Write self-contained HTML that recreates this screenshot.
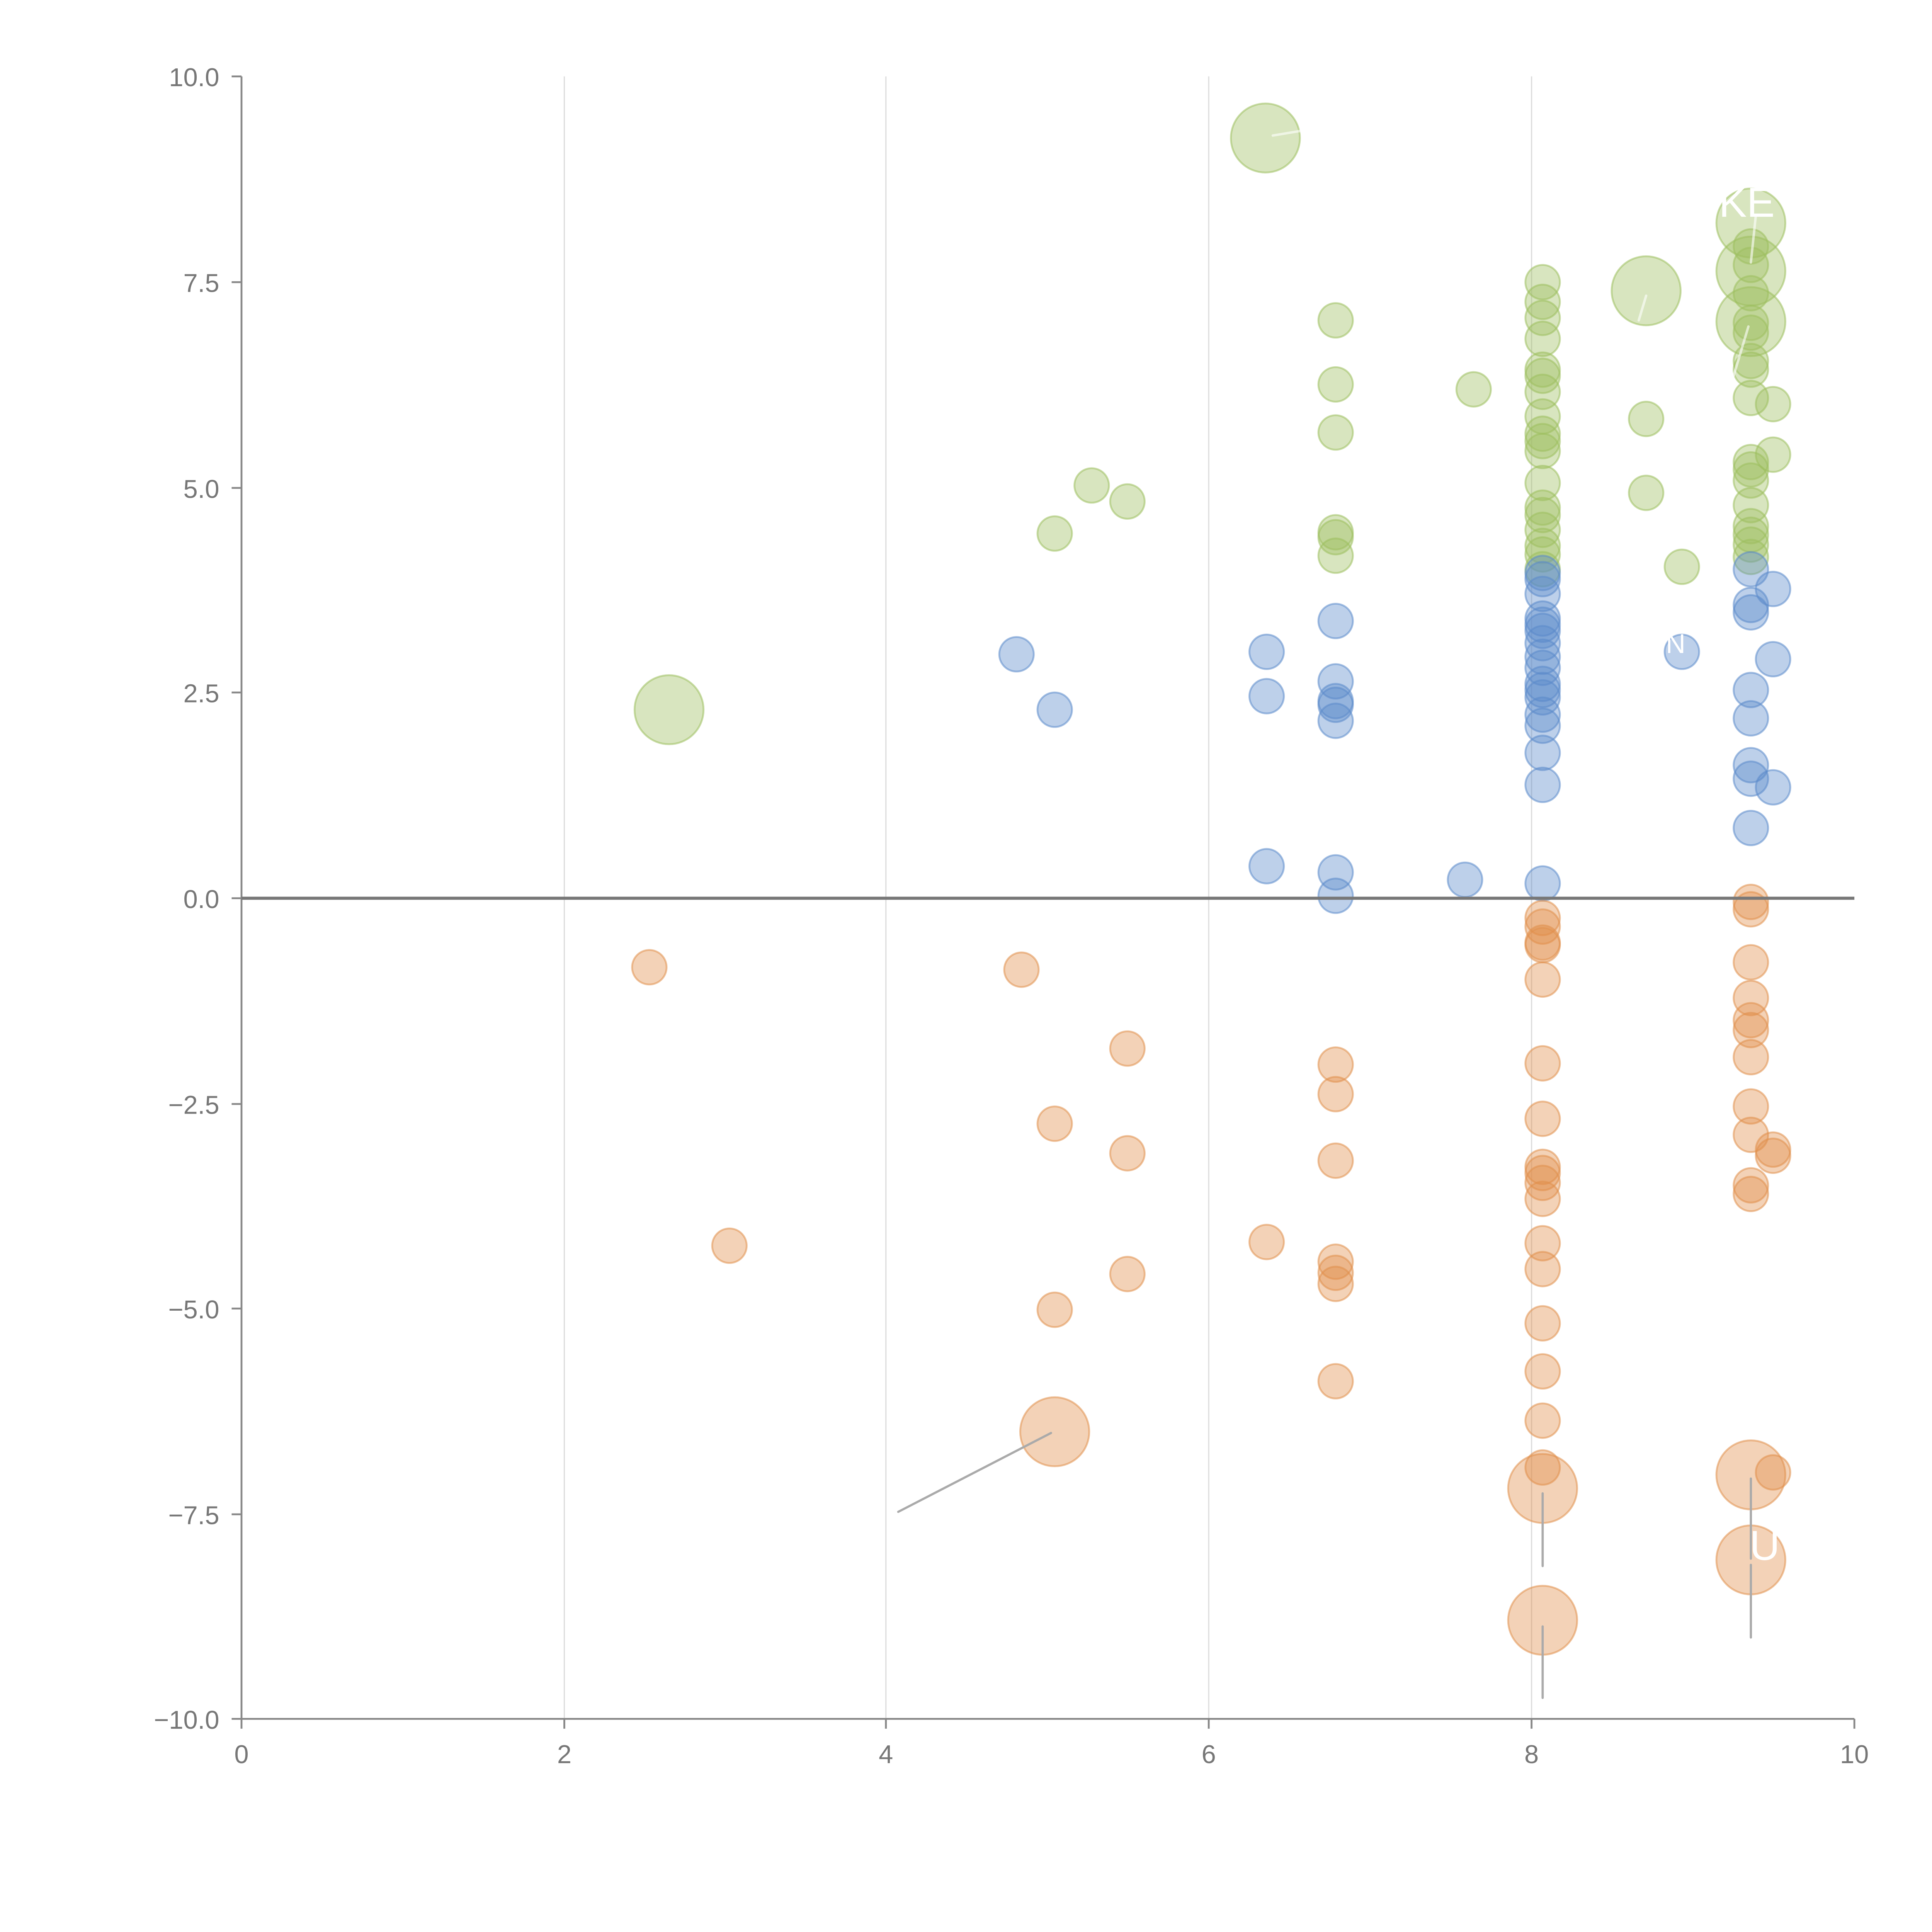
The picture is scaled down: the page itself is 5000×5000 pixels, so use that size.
<!DOCTYPE html>
<html><head><meta charset="utf-8"><style>html,body{margin:0;padding:0;background:#fff}svg{display:block}
.g{fill:#9dbf5e;fill-opacity:.4;stroke:#9dbf5e;stroke-opacity:.55;stroke-width:1.5}
.b{fill:#5b8acb;fill-opacity:.4;stroke:#5b8acb;stroke-opacity:.55;stroke-width:1.5}
.o{fill:#e08f4c;fill-opacity:.4;stroke:#e08f4c;stroke-opacity:.55;stroke-width:1.5}
</style></head>
<body>
<svg width="5000" height="5000" viewBox="0 0 1568 1568" xmlns="http://www.w3.org/2000/svg" font-family="Liberation Sans, Arial, sans-serif">
<g stroke="#dddddd" stroke-width="1">
<line x1="458" y1="62" x2="458" y2="1395"/><line x1="719" y1="62" x2="719" y2="1395"/>
<line x1="981" y1="62" x2="981" y2="1395"/><line x1="1243" y1="62" x2="1243" y2="1395"/>
</g>
<g stroke="#888" stroke-width="1.5">
<line x1="196" y1="62" x2="196" y2="1395"/><line x1="196" y1="1395" x2="1505" y2="1395"/>
<line x1="188" y1="62" x2="196" y2="62"/><line x1="188" y1="229" x2="196" y2="229"/><line x1="188" y1="396" x2="196" y2="396"/><line x1="188" y1="562" x2="196" y2="562"/><line x1="188" y1="729" x2="196" y2="729"/><line x1="188" y1="896" x2="196" y2="896"/><line x1="188" y1="1062" x2="196" y2="1062"/><line x1="188" y1="1229" x2="196" y2="1229"/><line x1="188" y1="1395" x2="196" y2="1395"/>
<line x1="196" y1="1395" x2="196" y2="1403"/><line x1="458" y1="1395" x2="458" y2="1403"/><line x1="719" y1="1395" x2="719" y2="1403"/><line x1="981" y1="1395" x2="981" y2="1403"/><line x1="1243" y1="1395" x2="1243" y2="1403"/><line x1="1505" y1="1395" x2="1505" y2="1403"/>
</g>
<g fill="#777" font-size="21" text-anchor="end">
<text x="178" y="70">10.0</text><text x="178" y="237">7.5</text><text x="178" y="404">5.0</text><text x="178" y="570">2.5</text><text x="178" y="737">0.0</text><text x="178" y="904">−2.5</text><text x="178" y="1070">−5.0</text><text x="178" y="1237">−7.5</text><text x="178" y="1403">−10.0</text>
</g>
<g fill="#777" font-size="21" text-anchor="middle">
<text x="196" y="1431">0</text><text x="458" y="1431">2</text><text x="719" y="1431">4</text><text x="981" y="1431">6</text><text x="1243" y="1431">8</text><text x="1505" y="1431">10</text>
</g>
<g class="g">
<circle cx="1027" cy="112" r="28"/><circle cx="543" cy="576" r="28"/><circle cx="1336" cy="236" r="28"/><circle cx="1421" cy="181" r="28"/><circle cx="1421" cy="220" r="28"/><circle cx="1421" cy="261" r="28"/>
<circle cx="1084" cy="260" r="14"/><circle cx="1084" cy="312" r="14"/><circle cx="1084" cy="351" r="14"/><circle cx="1084" cy="432" r="14"/><circle cx="1084" cy="436" r="14"/><circle cx="1084" cy="451" r="14"/><circle cx="856" cy="433" r="14"/><circle cx="886" cy="394" r="14"/><circle cx="915" cy="407" r="14"/><circle cx="1196" cy="316" r="14"/><circle cx="1336" cy="340" r="14"/><circle cx="1336" cy="400" r="14"/><circle cx="1365" cy="460" r="14"/><circle cx="1439" cy="328" r="14"/><circle cx="1439" cy="369" r="14"/>
<circle cx="1252" cy="229" r="14"/><circle cx="1252" cy="245" r="14"/><circle cx="1252" cy="258" r="14"/><circle cx="1252" cy="275" r="14"/><circle cx="1252" cy="300" r="14"/><circle cx="1252" cy="305" r="14"/><circle cx="1252" cy="318" r="14"/><circle cx="1252" cy="338" r="14"/><circle cx="1252" cy="352" r="14"/><circle cx="1252" cy="358" r="14"/><circle cx="1252" cy="366" r="14"/><circle cx="1252" cy="392" r="14"/><circle cx="1252" cy="412" r="14"/><circle cx="1252" cy="418" r="14"/><circle cx="1252" cy="430" r="14"/><circle cx="1252" cy="443" r="14"/><circle cx="1252" cy="450" r="14"/><circle cx="1252" cy="462" r="14"/>
<circle cx="1421" cy="200" r="14"/><circle cx="1421" cy="215" r="14"/><circle cx="1421" cy="238" r="14"/><circle cx="1421" cy="262" r="14"/><circle cx="1421" cy="270" r="14"/><circle cx="1421" cy="293" r="14"/><circle cx="1421" cy="300" r="14"/><circle cx="1421" cy="323" r="14"/><circle cx="1421" cy="375" r="14"/><circle cx="1421" cy="381" r="14"/><circle cx="1421" cy="390" r="14"/><circle cx="1421" cy="410" r="14"/><circle cx="1421" cy="427" r="14"/><circle cx="1421" cy="434" r="14"/><circle cx="1421" cy="442" r="14"/><circle cx="1421" cy="452" r="14"/>
</g>
<g class="b">
<circle cx="825" cy="531" r="14"/><circle cx="856" cy="576" r="14"/><circle cx="1028" cy="529" r="14"/><circle cx="1028" cy="565" r="14"/><circle cx="1028" cy="703" r="14"/><circle cx="1084" cy="504" r="14"/><circle cx="1084" cy="553" r="14"/><circle cx="1084" cy="569" r="14"/><circle cx="1084" cy="572" r="14"/><circle cx="1084" cy="585" r="14"/><circle cx="1084" cy="708" r="14"/><circle cx="1084" cy="727" r="14"/><circle cx="1189" cy="714" r="14"/><circle cx="1252" cy="717" r="14"/><circle cx="1365" cy="529" r="14"/><circle cx="1439" cy="478" r="14"/><circle cx="1439" cy="535" r="14"/><circle cx="1439" cy="639" r="14"/>
<circle cx="1252" cy="465" r="14"/><circle cx="1252" cy="470" r="14"/><circle cx="1252" cy="482" r="14"/><circle cx="1252" cy="502" r="14"/><circle cx="1252" cy="507" r="14"/><circle cx="1252" cy="512" r="14"/><circle cx="1252" cy="522" r="14"/><circle cx="1252" cy="533" r="14"/><circle cx="1252" cy="542" r="14"/><circle cx="1252" cy="555" r="14"/><circle cx="1252" cy="560" r="14"/><circle cx="1252" cy="566" r="14"/><circle cx="1252" cy="580" r="14"/><circle cx="1252" cy="589" r="14"/><circle cx="1252" cy="611" r="14"/><circle cx="1252" cy="637" r="14"/>
<circle cx="1421" cy="462" r="14"/><circle cx="1421" cy="491" r="14"/><circle cx="1421" cy="497" r="14"/><circle cx="1421" cy="560" r="14"/><circle cx="1421" cy="583" r="14"/><circle cx="1421" cy="621" r="14"/><circle cx="1421" cy="632" r="14"/><circle cx="1421" cy="672" r="14"/>
</g>
<g class="o">
<circle cx="527" cy="785" r="14"/><circle cx="592" cy="1011" r="14"/><circle cx="829" cy="787" r="14"/><circle cx="856" cy="912" r="14"/><circle cx="856" cy="1063" r="14"/><circle cx="915" cy="851" r="14"/><circle cx="915" cy="936" r="14"/><circle cx="915" cy="1034" r="14"/><circle cx="1028" cy="1008" r="14"/><circle cx="1084" cy="864" r="14"/><circle cx="1084" cy="888" r="14"/><circle cx="1084" cy="942" r="14"/><circle cx="1084" cy="1024" r="14"/><circle cx="1084" cy="1033" r="14"/><circle cx="1084" cy="1042" r="14"/><circle cx="1084" cy="1121" r="14"/><circle cx="1439" cy="933" r="14"/><circle cx="1439" cy="938" r="14"/><circle cx="1439" cy="1195" r="14"/>
<circle cx="1252" cy="745" r="14"/><circle cx="1252" cy="752" r="14"/><circle cx="1252" cy="765" r="14"/><circle cx="1252" cy="767" r="14"/><circle cx="1252" cy="795" r="14"/><circle cx="1252" cy="863" r="14"/><circle cx="1252" cy="908" r="14"/><circle cx="1252" cy="947" r="14"/><circle cx="1252" cy="952" r="14"/><circle cx="1252" cy="960" r="14"/><circle cx="1252" cy="973" r="14"/><circle cx="1252" cy="1009" r="14"/><circle cx="1252" cy="1030" r="14"/><circle cx="1252" cy="1074" r="14"/><circle cx="1252" cy="1113" r="14"/><circle cx="1252" cy="1153" r="14"/><circle cx="1252" cy="1191" r="14"/>
<circle cx="1421" cy="732" r="14"/><circle cx="1421" cy="738" r="14"/><circle cx="1421" cy="781" r="14"/><circle cx="1421" cy="810" r="14"/><circle cx="1421" cy="828" r="14"/><circle cx="1421" cy="836" r="14"/><circle cx="1421" cy="858" r="14"/><circle cx="1421" cy="898" r="14"/><circle cx="1421" cy="921" r="14"/><circle cx="1421" cy="962" r="14"/><circle cx="1421" cy="969" r="14"/>
<circle cx="856" cy="1162" r="28"/><circle cx="1252" cy="1208" r="28"/><circle cx="1252" cy="1315" r="28"/><circle cx="1421" cy="1197" r="28"/><circle cx="1421" cy="1266" r="28"/>
</g>
<line x1="196" y1="729" x2="1505" y2="729" stroke="#777" stroke-width="2.5"/>
<g stroke="#aaa" stroke-width="1.8" stroke-linecap="round">
<line x1="729" y1="1227" x2="853" y2="1163"/><line x1="1252" y1="1212" x2="1252" y2="1271"/><line x1="1252" y1="1320" x2="1252" y2="1378"/><line x1="1421" y1="1200" x2="1421" y2="1265"/><line x1="1421" y1="1270" x2="1421" y2="1329"/>
</g>
<g stroke="#fff" stroke-opacity="0.6" stroke-width="2" stroke-linecap="round">
<line x1="1033" y1="110" x2="1057" y2="106"/><line x1="1336" y1="240" x2="1330" y2="260"/><line x1="1425" y1="175" x2="1421" y2="213"/><line x1="1419" y1="265" x2="1407" y2="305"/>
</g>
<g fill="#fff" font-size="34">
<text x="1395" y="176">KE</text><text x="1420" y="1266">U</text><text x="1352" y="530" font-size="22">N</text>
</g>
</svg>
</body></html>
